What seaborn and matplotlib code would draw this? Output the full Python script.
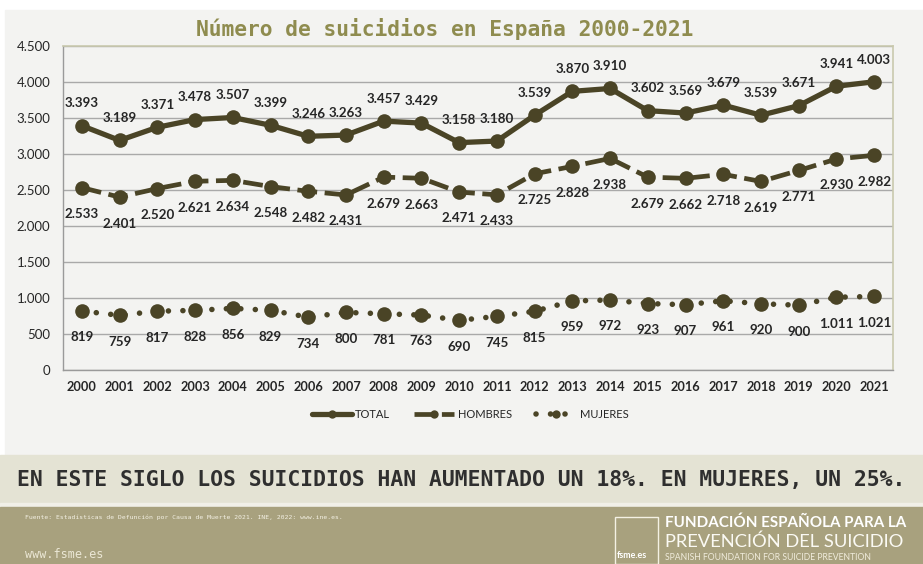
import matplotlib
matplotlib.use("Agg")
import matplotlib.pyplot as plt
from matplotlib.lines import Line2D
from matplotlib.patches import Rectangle
import seaborn as sns
import pandas as pd
import numpy as np

# ---- data -------------------------------------------------------------
years = list(range(2000, 2022))
total = [3393, 3189, 3371, 3478, 3507, 3399, 3246, 3263, 3457, 3429, 3158,
         3180, 3539, 3870, 3910, 3602, 3569, 3679, 3539, 3671, 3941, 4003]
hombres = [2533, 2401, 2520, 2621, 2634, 2548, 2482, 2431, 2679, 2663, 2471,
           2433, 2725, 2828, 2938, 2679, 2662, 2718, 2619, 2771, 2930, 2982]
mujeres = [819, 759, 817, 828, 856, 829, 734, 800, 781, 763, 690,
           745, 815, 959, 972, 923, 907, 961, 920, 900, 1011, 1021]
series_names = ["TOTAL", "HOMBRES", "MUJERES"]
y_ticks = list(range(0, 4501, 500))

title = "Número de suicidios en España 2000-2021"
headline = "EN ESTE SIGLO LOS SUICIDIOS HAN AUMENTADO UN 18%. EN MUJERES, UN 25%."
source = "Fuente: Estadísticas de Defunción por Causa de Muerte 2021. INE, 2022: www.ine.es."
website = "www.fsme.es"

# ---- styling -----------------------------------------------------------
W, H = 923, 564
DARK = "#4a4426"
PANEL = "#f3f3f1"
BAND = "#e4e3d4"
FOOTER = "#a8a17e"
TITLE_C = "#8f8c4f"
TXT = "#262626"

sns.set_theme(style="white")
plt.rcParams["font.family"] = ["Lato", "DejaVu Sans"]


def fx(x):
    return x / W


def fy(y):
    return 1 - y / H


def fmt(v):
    return f"{v:,}".replace(",", ".")


df = pd.DataFrame({
    "idx": list(range(len(years))) * 3,
    "valor": total + hombres + mujeres,
    "serie": [s for s in series_names for _ in years],
})

fig = plt.figure(figsize=(W / 100, H / 100), dpi=100)
fig.patch.set_facecolor("white")

# background blocks
fig.add_artist(Rectangle((fx(5), fy(455)), fx(918), 445 / H,
                         transform=fig.transFigure, color=PANEL, zorder=0))
fig.add_artist(Rectangle((0, fy(503)), 1, 48 / H,
                         transform=fig.transFigure, color=BAND, zorder=0))
fig.add_artist(Rectangle((0, fy(507)), 1, 4 / H,
                         transform=fig.transFigure, color="#f1f0e8", zorder=0))
fig.add_artist(Rectangle((0, 0), 1, 57 / H,
                         transform=fig.transFigure, color=FOOTER, zorder=0))

ax = fig.add_axes([fx(63), fy(370), (893 - 63) / W, (370 - 46) / H])
ax.set_facecolor(PANEL)

styles = {
    "TOTAL": dict(linestyle="-", lw=3.8, solid_capstyle="round"),
    "HOMBRES": dict(linestyle=(0, (4.2, 1.6)), lw=3.4, dash_capstyle="butt"),
    "MUJERES": dict(linestyle=(0, (0.01, 2.6)), lw=4.0, dash_capstyle="round"),
}

for name in series_names:
    sub = df[df["serie"] == name]
    sns.lineplot(data=sub, x="idx", y="valor", ax=ax, color=DARK,
                 marker="o", markersize=10.5, markeredgewidth=0,
                 legend=False, zorder=3, **styles[name])

# value labels
offsets = {"TOTAL": 16, "HOMBRES": -19, "MUJERES": -19}
values = {"TOTAL": total, "HOMBRES": hombres, "MUJERES": mujeres}
for name in series_names:
    off = offsets[name]
    for i, v in enumerate(values[name]):
        ax.annotate(fmt(v), (i, v), xytext=(0, off), textcoords="offset points",
                    ha="center", va="center", fontsize=9.6, fontweight="bold",
                    color=TXT, zorder=4)

ax.set_xlim(-0.5, len(years) - 0.5)
ax.set_ylim(0, 4500)
ax.set_yticks(y_ticks)
ax.set_yticklabels([fmt(v) for v in y_ticks], fontsize=9.5, color=TXT)
ax.set_xticks(range(len(years)))
ax.set_xticklabels([str(y) for y in years], fontsize=9.2, fontweight="bold",
                   color=TXT)
ax.set_xticks(np.arange(-0.5, len(years), 1), minor=True)
ax.tick_params(axis="x", which="major", length=0, pad=8)
ax.tick_params(axis="x", which="minor", length=5, width=1, color="#9a9a9a",
               direction="out")
ax.tick_params(axis="y", length=5, width=1, color="#9a9a9a", direction="out",
               pad=4)
ax.set_xlabel("")
ax.set_ylabel("")
ax.yaxis.grid(True, color="#a9a9a9", lw=1)
ax.set_axisbelow(True)
for side in ["left", "bottom"]:
    ax.spines[side].set_color("#9a9a9a")
    ax.spines[side].set_linewidth(1)
for side in ["top", "right"]:
    ax.spines[side].set_color("#c9c9ae")
    ax.spines[side].set_linewidth(1.2)

# legend
handles = [Line2D([], [], color=DARK, marker="o", markersize=6,
                  markeredgewidth=0, **styles[n]) for n in series_names]
fig.legend(handles, series_names, loc="center",
           bbox_to_anchor=(fx(470), fy(414)), ncol=3, frameon=False,
           handlelength=3.6, handletextpad=0.3, columnspacing=2.2,
           prop={"size": 8})

# title
fig.text(fx(445), fy(29), title, ha="center", va="center",
         family="DejaVu Sans Mono", fontweight="bold", fontsize=15.3,
         color=TITLE_C)

# headline band
fig.text(fx(461), fy(480), headline, ha="center", va="center",
         family="DejaVu Sans Mono", fontweight="bold", fontsize=15.4,
         color="#2f2f2f")

# footer
fig.text(fx(25), fy(517), source, ha="left", va="center",
         family="DejaVu Sans Mono", fontsize=4.6, color="#f4f1e4")
fig.text(fx(25), fy(555), website, ha="left", va="center",
         family="DejaVu Sans Mono", fontsize=8.5, color="#ebe7d5")

fig.add_artist(Rectangle((fx(615), 0), (658 - 615) / W, (564 - 517) / H,
                         transform=fig.transFigure, fill=False,
                         edgecolor="#f4f1e4", lw=1))
fig.text(fx(617), fy(556), "fsme.es", ha="left", va="center",
         fontsize=6.5, fontweight="bold", color="white")
fig.text(fx(665), fy(523), "FUNDACIÓN ESPAÑOLA PARA LA", ha="left",
         va="center", fontsize=10.9, fontweight="bold", color="white")
fig.text(fx(665), fy(542), "PREVENCIÓN DEL SUICIDIO", ha="left",
         va="center", fontsize=13.2, fontweight="normal", color="#fbfaf4")
fig.text(fx(665), fy(557.5), "SPANISH FOUNDATION FOR SUICIDE PREVENTION",
         ha="left", va="center", fontsize=6.2, color="#f0ecdc")

fig.savefig("out.png", dpi=100, facecolor=fig.get_facecolor())
